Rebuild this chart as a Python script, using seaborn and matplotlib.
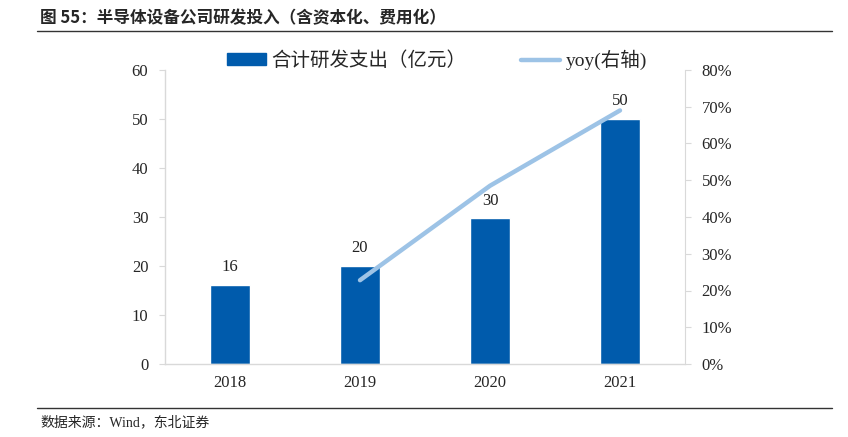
import matplotlib
matplotlib.use("Agg")
import matplotlib.pyplot as plt
import seaborn as sns
import pandas as pd
from matplotlib.lines import Line2D
from matplotlib.patches import Patch

years = ["2018", "2019", "2020", "2021"]
rd_spend = [16.2, 20.0, 29.7, 50.1]
bar_labels = ["16", "20", "30", "50"]
yoy_years = ["2019", "2020", "2021"]
yoy = [22.8, 48.5, 69.0]
left_ticks = [0, 10, 20, 30, 40, 50, 60]
right_ticks = [0, 10, 20, 30, 40, 50, 60, 70, 80]

sns.set_style("white")
plt.rcParams['font.family'] = ['Liberation Serif', 'Noto Sans CJK SC', 'DejaVu Sans']
cjk = ['Noto Sans CJK SC', 'DejaVu Sans']
mixed = ['Liberation Serif', 'Noto Sans CJK SC', 'DejaVu Sans']

BAR = "#005BAC"
LINE = "#9DC3E6"
SPINE = "#D9D9D9"

fig = plt.figure(figsize=(8.48, 4.37), dpi=100)
ax = fig.add_axes([165/848, 1-364/437, 520/848, 294/437])

df = pd.DataFrame({"year": years, "val": rd_spend})
sns.barplot(data=df, x="year", y="val", ax=ax, color=BAR, width=0.31, saturation=1)
for i, (v, lab) in enumerate(zip(rd_spend, bar_labels)):
    ax.text(i, v + 2.0, lab, ha="center", va="bottom", fontsize=12, color="#222222")

ax.set_ylim(0, 60)
ax.set_xlim(-0.5, 3.5)
ax.set_yticks(left_ticks)
ax.set_xlabel("")
ax.set_ylabel("")
ax.tick_params(axis="y", labelsize=12, length=4, color=SPINE, direction="out", pad=8, left=True)
ax.tick_params(axis="x", labelsize=12, length=0, pad=8)
for s in ["top", "right"]:
    ax.spines[s].set_visible(False)
for s in ["left", "bottom"]:
    ax.spines[s].set_color(SPINE)
    ax.spines[s].set_linewidth(1)

ax2 = ax.twinx()
xpos = [years.index(y) for y in yoy_years]
sns.lineplot(x=xpos, y=yoy, ax=ax2, color=LINE, linewidth=3.2, solid_capstyle="round")
ax2.set_ylim(0, 80)
ax2.set_yticks(right_ticks)
ax2.set_yticklabels([f"{t}%" for t in right_ticks])
ax2.tick_params(axis="y", labelsize=12, length=4, color=SPINE, direction="out", pad=8, right=True)
for s in ["top", "left", "bottom"]:
    ax2.spines[s].set_visible(False)
ax2.spines["right"].set_color(SPINE)
ax2.set_xlim(-0.5, 3.5)

handles = [Patch(facecolor=BAR, edgecolor=BAR),
           Line2D([0], [0], color=LINE, linewidth=3.2)]
leg = fig.legend(handles, ["合计研发支出（亿元）", "yoy(右轴)"], loc="center",
                 bbox_to_anchor=(437/848, 1-60/437), ncol=2, frameon=False,
                 handlelength=2.0, handleheight=0.55, columnspacing=2.8,
                 handletextpad=0.3, prop={'family': mixed, 'size': 14})

fig.text(40/848, 1-18/437, "图 55：半导体设备公司研发投入（含资本化、费用化）",
         ha="left", va="center", fontsize=12, fontweight="bold", family=cjk)
fig.add_artist(Line2D([37/848, 832/848], [1-31/437, 1-31/437], color="#333333", linewidth=1))
fig.add_artist(Line2D([37/848, 832/848], [1-408/437, 1-408/437], color="#333333", linewidth=1))
fig.text(40/848, 1-422/437, "数据来源：Wind，东北证券", ha="left", va="center",
         fontsize=10, family=mixed)

fig.savefig("out.png", dpi=100)
